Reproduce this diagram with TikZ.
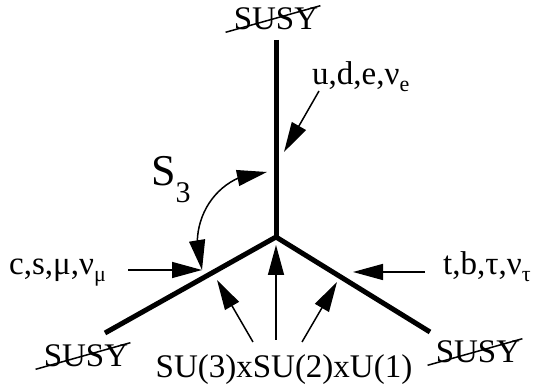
\documentclass[tikz,border=0pt]{standalone}
\usepackage{fontspec}
\setmainfont{Liberation Serif}
\usetikzlibrary{arrows.meta,bending}
\newcommand{\lowidx}[1]{\raisebox{-7pt}{\fontsize{22}{24}\selectfont #1}}

\begin{document}
\begin{tikzpicture}[x=1pt,y=1pt,
  arm/.style={line width=5pt},
  ptr/.style={line width=1.5pt,-{Triangle[length=30pt,width=16pt]}},
  lbl/.style={inner sep=0pt,font=\fontsize{33}{36}\selectfont},
  strike/.style={line width=1.5pt}]
  \useasboundingbox (0,0) rectangle (536,388);
  % the three arms
  \coordinate (J) at (276,151);
  \coordinate (T) at (276,348);
  \coordinate (L) at (105,55);
  \coordinate (R) at (430,56);
  \draw[arm] (L) -- (J) -- (R);
  \draw[arm] (T) -- (J);
  % broken SUSY at the ends
  \node[lbl] (susyT) at (276,369) {SUSY};
  \node[lbl] (susyL) at (86,32) {SUSY};
  \node[lbl] (susyR) at (478,36) {SUSY};
  \foreach \s in {susyT,susyL,susyR}
    \draw[strike] ([shift={(-8pt,-2pt)}]\s.south west) -- ([shift={(2pt,2pt)}]\s.north east);
  % labels
  \node[lbl, anchor=base west] (ude) at (312,303) {u,d,e,ν\lowidx{e}};
  \node[lbl, anchor=base west] (csm) at (9,113) {c,s,μ,ν\lowidx{μ}};
  \node[lbl, anchor=base west] (tbt) at (443,113) {t,b,τ,ν\lowidx{τ}};
  \node[lbl, anchor=base] (sm) at (284,10) {SU(3)xSU(2)xU(1)};
  \node[lbl, anchor=base west] (sym) at (151,202)
    {\fontsize{44}{48}\selectfont S\raisebox{-17pt}{\fontsize{30}{32}\selectfont 3}};
  % arrows
  \coordinate (udeA) at (319,297); \coordinate (udeB) at (284,236);
  \coordinate (csmA) at (128,118); \coordinate (csmB) at (202,118);
  \coordinate (tbtA) at (425,116); \coordinate (tbtB) at (353,116);
  \coordinate (smA1) at (253,46);  \coordinate (smB1) at (217,108);
  \coordinate (smA2) at (276,48);  \coordinate (smB2) at (276,143);
  \coordinate (smA3) at (302,46);  \coordinate (smB3) at (337,106);
  \coordinate (symA) at (202,118); \coordinate (symB) at (267,216);
  \draw[ptr] (udeA) -- (udeB);
  \draw[ptr] (csmA) -- (csmB);
  \draw[ptr] (tbtA) -- (tbtB);
  \foreach \i in {1,2,3}
    \draw[ptr] (smA\i) -- (smB\i);
  \draw[line width=1.5pt,{Triangle[length=30pt,width=16pt]}-{Triangle[length=30pt,width=16pt]}]
    (symA) to[out=110,in=180,looseness=1.1] (symB);
\end{tikzpicture}
\end{document}
